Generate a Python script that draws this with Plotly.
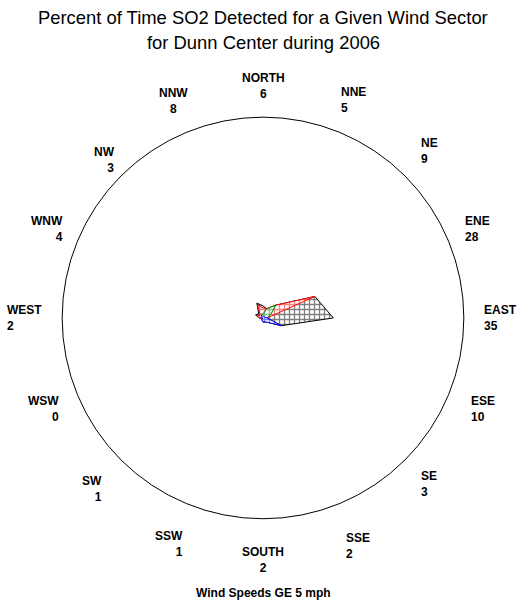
import numpy as np
import plotly.graph_objects as go

# ---- data ----
directions = ["NORTH", "NNE", "NE", "ENE", "EAST", "ESE", "SE", "SSE",
              "SOUTH", "SSW", "SW", "WSW", "WEST", "WNW", "NW", "NNW"]
# percent contributions per class (stacked, innermost first)
class1 = [1, 1, 1, 1, 2, 10, 3, 2, 2, 1, 1, 0, 1, 1, 1, 1]
class2 = [1, 4, 8, 3, 0, 0, 0, 0, 0, 0, 0, 0, 0, 0, 0, 1]
class3 = [3, 0, 0, 24, 0, 0, 0, 0, 0, 0, 0, 0, 1, 2, 1, 5]
class4 = [1, 0, 0, 0, 33, 0, 0, 0, 0, 0, 0, 0, 0, 1, 1, 1]

title_lines = ["Percent of Time SO2 Detected for a Given Wind Sector",
               "for Dunn Center during 2006"]
footnote = "Wind Speeds GE 5 mph"

# ---- styles / layout ----
FONT = "Liberation Sans"
class_colors = ["blue", "green", "red", "black"]
label_align = ["center", "left", "left", "left", "left", "left", "left", "left",
               "center", "right", "right", "right", "left", "right", "right", "center"]
label_radius = [115.5, 117.5, 117.5, 115.5, 118.5, 118.5, 117, 123,
                120.3, 122, 120.5, 118.5, 118.8, 116.3, 111.3, 117]

comps = np.array([class1, class2, class3, class4], dtype=float)
cum = np.cumsum(comps, axis=0)
total = cum[-1]
n = len(directions)
theta = np.deg2rad(np.arange(n) * 360.0 / n)

fig = go.Figure()

# draw outermost cumulative polygon first
for k in range(len(comps) - 1, -1, -1):
    r = cum[k]
    x = np.append(r * np.sin(theta), r[0] * np.sin(theta[0]))
    y = np.append(r * np.cos(theta), r[0] * np.cos(theta[0]))
    col = class_colors[k]
    fig.add_trace(go.Scatter(
        x=x, y=y, mode="lines", fill="toself",
        line=dict(color=col, width=1),
        fillcolor="white",
        fillpattern=dict(shape="+", size=5, solidity=0.45,
                         fgcolor=col, bgcolor="white"),
        hoverinfo="skip", showlegend=False))

# outer circle = 100%
fig.add_shape(type="circle", xref="x", yref="y", x0=-100, y0=-100, x1=100, y1=100,
              line=dict(color="black", width=1))

# direction labels
for i, d in enumerate(directions):
    lr = label_radius[i]
    fig.add_annotation(
        x=lr * np.sin(theta[i]), y=lr * np.cos(theta[i]), xref="x", yref="y",
        text=f"<b>{d}</b><br><b>{int(total[i])}</b>", showarrow=False,
        xanchor="center", yanchor="middle", align=label_align[i],
        font=dict(family=FONT, size=12, color="black"))

W, H = 522, 608
L, T, PW, PH = 22, 77, 482, 502

def py(pix):
    return 1 + (T - pix) / PH

fig.add_annotation(x=0.5, y=py(17), xref="paper", yref="paper", text=title_lines[0],
                   showarrow=False, xanchor="center", yanchor="middle",
                   font=dict(family=FONT, size=18.4, color="black"))
fig.add_annotation(x=0.5, y=py(42), xref="paper", yref="paper", text=title_lines[1],
                   showarrow=False, xanchor="center", yanchor="middle",
                   font=dict(family=FONT, size=18.4, color="black"))
fig.add_annotation(x=0.5, y=py(593), xref="paper", yref="paper", text=f"<b>{footnote}</b>",
                   showarrow=False, xanchor="center", yanchor="middle",
                   font=dict(family=FONT, size=12, color="black"))

fig.update_xaxes(range=[-120, 120], visible=False, fixedrange=True)
fig.update_yaxes(range=[-130, 120], visible=False, fixedrange=True)
fig.update_layout(
    width=W, height=H,
    margin=dict(l=L, r=W - L - PW, t=T, b=H - T - PH, pad=0),
    plot_bgcolor="white", paper_bgcolor="white",
    showlegend=False)

fig.write_html("out.html", config={"displayModeBar": False},
               post_script="document.body.style.margin='0';")
